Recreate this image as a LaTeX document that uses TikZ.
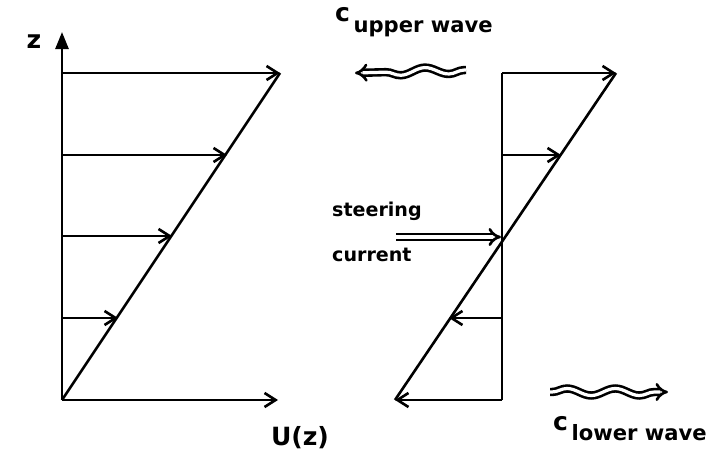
\documentclass[tikz,border=0pt]{standalone}
\usepackage{fontspec}
\usepackage{tikz}
\usetikzlibrary{arrows.meta,decorations.pathmorphing}
\newfontfamily\handfont{DejaVu Sans}

\begin{document}
\begin{tikzpicture}[x=0.35mm,y=-0.35mm,
    pen/.style={line width=2.6pt},
    vec/.style={pen,-{Straight Barb[length=11pt,width=14pt,line width=2.6pt]}},
    hollow/.style={double,double distance=3.2pt,line width=2.6pt,
                   -{Implies[length=11pt]}},
    wavy/.style={hollow,decorate,
                 decoration={snake,amplitude=3.5pt,segment length=48pt,
                             pre length=2pt,post length=12pt}},
    lbl/.style={font=\handfont\bfseries\fontsize{19}{23}\selectfont,inner sep=0pt},
    biglbl/.style={lbl,font=\handfont\bfseries\fontsize{25}{29}\selectfont}]

    \useasboundingbox (0,0) rectangle (707,466);

    % ── linkes Profil ─────────────────────────────────────
    \coordinate (O1) at (62,400);
    \coordinate (zTop) at (62,32);
    \coordinate (uEnd) at (278,400);
    \coordinate (top1) at (280,73);
    \draw[pen,-{Triangle[length=17pt,width=13pt]}] (O1) -- (zTop);
    \draw[vec] (O1) -- (uEnd);
    \draw[pen] (O1) -- (top1);
    \foreach \y/\x in {73/280,155/227,236/172,318/118}
      \draw[vec] (62,\y) -- (\x,\y);
    \node[biglbl] (zLab) at (34,42) {z};
    \node[biglbl] (uLab) at (300,438) {U(z)};

    % ── rechtes Profil ────────────────────────────────────
    \coordinate (O2) at (502,400);
    \coordinate (top2) at (502,73);
    \coordinate (tip2) at (616,73);
    \coordinate (bot2) at (395,400);
    \coordinate (cross) at (501,237);
    \draw[pen] (O2) -- (top2);
    \draw[pen] (bot2) -- (tip2);
    \draw[vec] (top2) -- (tip2);
    \draw[vec] (502,155) -- (561,155);
    \draw[vec] (502,318) -- (449,318);
    \draw[vec] (O2) -- (bot2);

    % Steuerstrom
    \node[lbl,anchor=base west] (steer) at (332,217) {steering};
    \node[lbl,anchor=base west] (curr) at (332,262) {current};
    \coordinate (scStart) at (396,237);
    \draw[hollow] (scStart) -- (cross);

    % Wellen
    \node[biglbl,anchor=base west] (cUp) at (335,22)
      {c\raisebox{-0.4em}{\fontsize{21}{25}\selectfont\,upper wave}};
    \node[biglbl,anchor=base west] (cLow) at (553,430)
      {c\raisebox{-0.4em}{\fontsize{21}{25}\selectfont\,lower wave}};
    \coordinate (upA) at (466,70);
    \coordinate (upB) at (355,73);
    \coordinate (loA) at (550,392);
    \coordinate (loB) at (668,392);
    \draw[wavy] (upA) -- (upB);
    \draw[wavy] (loA) -- (loB);

  \end{tikzpicture}
\end{document}
